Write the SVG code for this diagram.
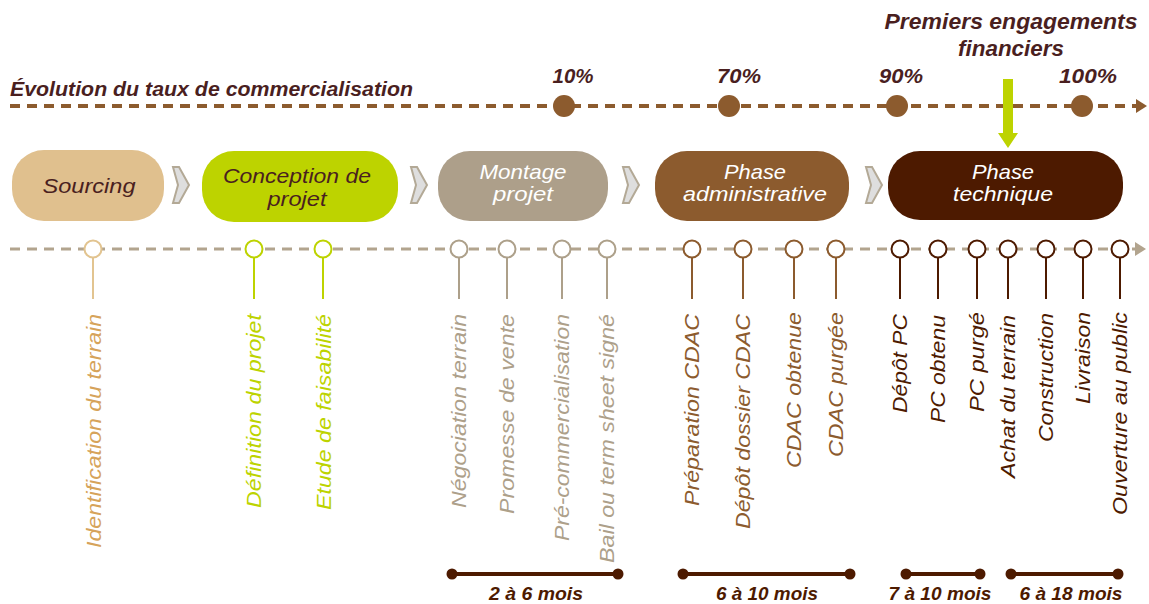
<svg xmlns="http://www.w3.org/2000/svg" width="1149" height="604" viewBox="0 0 1149 604">
<defs>
<style>
text{font-family:"Liberation Sans",Arial,sans-serif;font-style:italic}
.dark{fill:#4A1F1F}
.bold{font-weight:bold}
.boxt{font-size:21px;text-anchor:middle}
.lbl{font-size:21px;text-anchor:end}
.dur{font-size:19px;font-weight:bold;text-anchor:middle;fill:#4D1A00}
.pct{font-size:21px;font-weight:bold;text-anchor:middle;fill:#4A1F1F}
.chev{fill:#DEDEDE;stroke:#B3A996;stroke-width:2;stroke-linejoin:miter}
.ms{fill:#fff;stroke-width:2}
.tan{stroke:#E2C490}
.grn{stroke:#BDD300}
.gry{stroke:#ADA08A}
.brn{stroke:#8C5B2E}
.drk{stroke:#4D1A00}
.ttan{fill:#D6A35A}
.tgrn{fill:#BDD300}
.tgry{fill:#ADA08A}
.tbrn{fill:#8C5B2E}
.tdrk{fill:#4D1A00}
</style>
<marker id="ahTop" markerUnits="userSpaceOnUse" markerWidth="12" markerHeight="14" refX="1" refY="7" orient="auto">
<path d="M0,0 L11,7 L0,14 Z" fill="#8C5B2E"/>
</marker>
<marker id="ahBot" markerUnits="userSpaceOnUse" markerWidth="12" markerHeight="14" refX="1" refY="7" orient="auto">
<path d="M0,0 L11,7 L0,14 Z" fill="#B2A48E"/>
</marker>
</defs>
<rect width="1149" height="604" fill="#fff"/>

<g id="connectors">
<line x1="10" y1="106" x2="1137" y2="106" stroke="#8C5B2E" stroke-width="4" stroke-dasharray="10,7" marker-end="url(#ahTop)"/>
<line x1="10" y1="249" x2="1136" y2="249" stroke="#B2A48E" stroke-width="3" stroke-dasharray="10,7" marker-end="url(#ahBot)"/>
<polygon points="1003,79 1013,79 1013,133 1018,133 1008,148 998,133 1003,133" fill="#BDD300"/>
<polygon class="chev" points="173,167 179,167 189,185 179,203 173,203 178,185"/>
<polygon class="chev" points="411,167 417,167 427,185 417,203 411,203 416,185"/>
<polygon class="chev" points="623,167 629,167 639,185 629,203 623,203 628,185"/>
<polygon class="chev" points="866,167 872,167 882,185 872,203 866,203 871,185"/>
</g>

<g id="title">
<text class="dark bold" x="10" y="96" font-size="21" textLength="403" lengthAdjust="spacingAndGlyphs">Évolution du taux de commercialisation</text>
<text class="dark bold" x="1011" y="29" font-size="22" text-anchor="middle" textLength="253" lengthAdjust="spacingAndGlyphs">Premiers engagements</text>
<text class="dark bold" x="1011" y="56" font-size="22" text-anchor="middle" textLength="106" lengthAdjust="spacingAndGlyphs">financiers</text>
</g>

<g id="milestones-top">
<circle cx="564" cy="106" r="11" fill="#8C5B2E"/>
<circle cx="729" cy="106" r="11" fill="#8C5B2E"/>
<circle cx="897" cy="106" r="11" fill="#8C5B2E"/>
<circle cx="1082" cy="106" r="11" fill="#8C5B2E"/>
<text class="pct" x="573" y="83" textLength="41" lengthAdjust="spacingAndGlyphs">10%</text>
<text class="pct" x="739" y="83" textLength="44" lengthAdjust="spacingAndGlyphs">70%</text>
<text class="pct" x="901" y="83" textLength="44" lengthAdjust="spacingAndGlyphs">90%</text>
<text class="pct" x="1088" y="83" textLength="58" lengthAdjust="spacingAndGlyphs">100%</text>
</g>

<g id="node-sourcing">
<rect x="12" y="150" width="152" height="71" rx="32" fill="#E0C08E"/>
<text class="boxt dark" x="89" y="193" textLength="93" lengthAdjust="spacingAndGlyphs">Sourcing</text>
</g>
<g id="node-conception">
<rect x="202" y="151" width="196" height="71" rx="32" fill="#BDD300"/>
<text class="boxt dark" x="297" y="183" textLength="148" lengthAdjust="spacingAndGlyphs">Conception de</text>
<text class="boxt dark" x="297" y="206" textLength="59" lengthAdjust="spacingAndGlyphs">projet</text>
</g>
<g id="node-montage">
<rect x="438" y="151" width="170" height="70" rx="32" fill="#AD9F8A"/>
<text class="boxt" fill="#fff" x="523" y="179" textLength="87" lengthAdjust="spacingAndGlyphs">Montage</text>
<text class="boxt" fill="#fff" x="523" y="201" textLength="60" lengthAdjust="spacingAndGlyphs">projet</text>
</g>
<g id="node-administrative">
<rect x="655" y="151" width="194" height="70" rx="32" fill="#8C5B2E"/>
<text class="boxt" fill="#fff" x="755" y="179" textLength="62" lengthAdjust="spacingAndGlyphs">Phase</text>
<text class="boxt" fill="#fff" x="755" y="201" textLength="144" lengthAdjust="spacingAndGlyphs">administrative</text>
</g>
<g id="node-technique">
<rect x="888" y="151" width="235" height="69" rx="32" fill="#4D1A00"/>
<text class="boxt" fill="#fff" x="1003" y="179" textLength="62" lengthAdjust="spacingAndGlyphs">Phase</text>
<text class="boxt" fill="#fff" x="1003" y="201" textLength="100" lengthAdjust="spacingAndGlyphs">technique</text>
</g>

<g id="steps">
<g id="step-identification"><line class="tan" x1="93" y1="258" x2="93" y2="299" stroke-width="2"/><circle class="ms tan" cx="93" cy="249" r="8.5"/><text class="lbl ttan" transform="translate(101,314) rotate(-90)" textLength="234" lengthAdjust="spacingAndGlyphs">Identification du terrain</text></g>
<g id="step-definition"><line class="grn" x1="254" y1="258" x2="254" y2="299" stroke-width="2"/><circle class="ms grn" cx="254" cy="249" r="8.5"/><text class="lbl tgrn" transform="translate(261,314) rotate(-90)" textLength="194" lengthAdjust="spacingAndGlyphs">Définition du projet</text></g>
<g id="step-etude"><line class="grn" x1="323" y1="258" x2="323" y2="299" stroke-width="2"/><circle class="ms grn" cx="323" cy="249" r="8.5"/><text class="lbl tgrn" transform="translate(331,314) rotate(-90)" textLength="196" lengthAdjust="spacingAndGlyphs">Etude de faisabilité</text></g>
<g id="step-negociation"><line class="gry" x1="459" y1="258" x2="459" y2="299" stroke-width="2"/><circle class="ms gry" cx="459" cy="249" r="8.5"/><text class="lbl tgry" transform="translate(466,314) rotate(-90)" textLength="194" lengthAdjust="spacingAndGlyphs">Négociation terrain</text></g>
<g id="step-promesse"><line class="gry" x1="507" y1="258" x2="507" y2="299" stroke-width="2"/><circle class="ms gry" cx="507" cy="249" r="8.5"/><text class="lbl tgry" transform="translate(514,314) rotate(-90)" textLength="200" lengthAdjust="spacingAndGlyphs">Promesse de vente</text></g>
<g id="step-precom"><line class="gry" x1="562" y1="258" x2="562" y2="299" stroke-width="2"/><circle class="ms gry" cx="562" cy="249" r="8.5"/><text class="lbl tgry" transform="translate(569,314) rotate(-90)" textLength="227" lengthAdjust="spacingAndGlyphs">Pré-commercialisation</text></g>
<g id="step-bail"><line class="gry" x1="607" y1="258" x2="607" y2="299" stroke-width="2"/><circle class="ms gry" cx="607" cy="249" r="8.5"/><text class="lbl tgry" transform="translate(614,314) rotate(-90)" textLength="249" lengthAdjust="spacingAndGlyphs">Bail ou term sheet signé</text></g>
<g id="step-prep-cdac"><line class="brn" x1="692" y1="258" x2="692" y2="299" stroke-width="2"/><circle class="ms brn" cx="692" cy="249" r="8.5"/><text class="lbl tbrn" transform="translate(699,314) rotate(-90)" textLength="192" lengthAdjust="spacingAndGlyphs">Préparation CDAC</text></g>
<g id="step-depot-cdac"><line class="brn" x1="743" y1="258" x2="743" y2="299" stroke-width="2"/><circle class="ms brn" cx="743" cy="249" r="8.5"/><text class="lbl tbrn" transform="translate(750,314) rotate(-90)" textLength="215" lengthAdjust="spacingAndGlyphs">Dépôt dossier CDAC</text></g>
<g id="step-cdac-obtenue"><line class="brn" x1="794" y1="258" x2="794" y2="299" stroke-width="2"/><circle class="ms brn" cx="794" cy="249" r="8.5"/><text class="lbl tbrn" transform="translate(801,312) rotate(-90)" textLength="156" lengthAdjust="spacingAndGlyphs">CDAC obtenue</text></g>
<g id="step-cdac-purgee"><line class="brn" x1="836" y1="258" x2="836" y2="299" stroke-width="2"/><circle class="ms brn" cx="836" cy="249" r="8.5"/><text class="lbl tbrn" transform="translate(843,312) rotate(-90)" textLength="145" lengthAdjust="spacingAndGlyphs">CDAC purgée</text></g>
<g id="step-depot-pc"><line class="drk" x1="900" y1="258" x2="900" y2="299" stroke-width="2"/><circle class="ms drk" cx="900" cy="249" r="8.5"/><text class="lbl tdrk" transform="translate(907,314) rotate(-90)" textLength="99" lengthAdjust="spacingAndGlyphs">Dépôt PC</text></g>
<g id="step-pc-obtenu"><line class="drk" x1="938" y1="258" x2="938" y2="299" stroke-width="2"/><circle class="ms drk" cx="938" cy="249" r="8.5"/><text class="lbl tdrk" transform="translate(945,315) rotate(-90)" textLength="108" lengthAdjust="spacingAndGlyphs">PC obtenu</text></g>
<g id="step-pc-purge"><line class="drk" x1="977" y1="258" x2="977" y2="299" stroke-width="2"/><circle class="ms drk" cx="977" cy="249" r="8.5"/><text class="lbl tdrk" transform="translate(984,312) rotate(-90)" textLength="100" lengthAdjust="spacingAndGlyphs">PC purgé</text></g>
<g id="step-achat"><line class="drk" x1="1008" y1="258" x2="1008" y2="299" stroke-width="2"/><circle class="ms drk" cx="1008" cy="249" r="8.5"/><text class="lbl tdrk" transform="translate(1015,315) rotate(-90)" textLength="163" lengthAdjust="spacingAndGlyphs">Achat du terrain</text></g>
<g id="step-construction"><line class="drk" x1="1046" y1="258" x2="1046" y2="299" stroke-width="2"/><circle class="ms drk" cx="1046" cy="249" r="8.5"/><text class="lbl tdrk" transform="translate(1053,313) rotate(-90)" textLength="129" lengthAdjust="spacingAndGlyphs">Construction</text></g>
<g id="step-livraison"><line class="drk" x1="1083" y1="258" x2="1083" y2="299" stroke-width="2"/><circle class="ms drk" cx="1083" cy="249" r="8.5"/><text class="lbl tdrk" transform="translate(1090,312) rotate(-90)" textLength="92" lengthAdjust="spacingAndGlyphs">Livraison</text></g>
<g id="step-ouverture"><line class="drk" x1="1120" y1="258" x2="1120" y2="299" stroke-width="2"/><circle class="ms drk" cx="1120" cy="249" r="8.5"/><text class="lbl tdrk" transform="translate(1127,312) rotate(-90)" textLength="203" lengthAdjust="spacingAndGlyphs">Ouverture au public</text></g>
</g>

<g id="durations">
<g id="dur-montage"><line x1="452" y1="574" x2="618" y2="574" stroke="#4D1A00" stroke-width="4"/><circle cx="452" cy="574" r="5.5" fill="#4D1A00"/><circle cx="618" cy="574" r="5.5" fill="#4D1A00"/><text class="dur" x="536" y="600" textLength="94" lengthAdjust="spacingAndGlyphs">2 à 6 mois</text></g>
<g id="dur-admin"><line x1="683" y1="574" x2="850" y2="574" stroke="#4D1A00" stroke-width="4"/><circle cx="683" cy="574" r="5.5" fill="#4D1A00"/><circle cx="850" cy="574" r="5.5" fill="#4D1A00"/><text class="dur" x="767" y="600" textLength="102" lengthAdjust="spacingAndGlyphs">6 à 10 mois</text></g>
<g id="dur-pc"><line x1="906" y1="574" x2="980" y2="574" stroke="#4D1A00" stroke-width="4"/><circle cx="906" cy="574" r="5.5" fill="#4D1A00"/><circle cx="980" cy="574" r="5.5" fill="#4D1A00"/><text class="dur" x="940" y="600" textLength="103" lengthAdjust="spacingAndGlyphs">7 à 10 mois</text></g>
<g id="dur-travaux"><line x1="1011" y1="574" x2="1118" y2="574" stroke="#4D1A00" stroke-width="4"/><circle cx="1011" cy="574" r="5.5" fill="#4D1A00"/><circle cx="1118" cy="574" r="5.5" fill="#4D1A00"/><text class="dur" x="1071" y="600" textLength="103" lengthAdjust="spacingAndGlyphs">6 à 18 mois</text></g>
</g>
</svg>
